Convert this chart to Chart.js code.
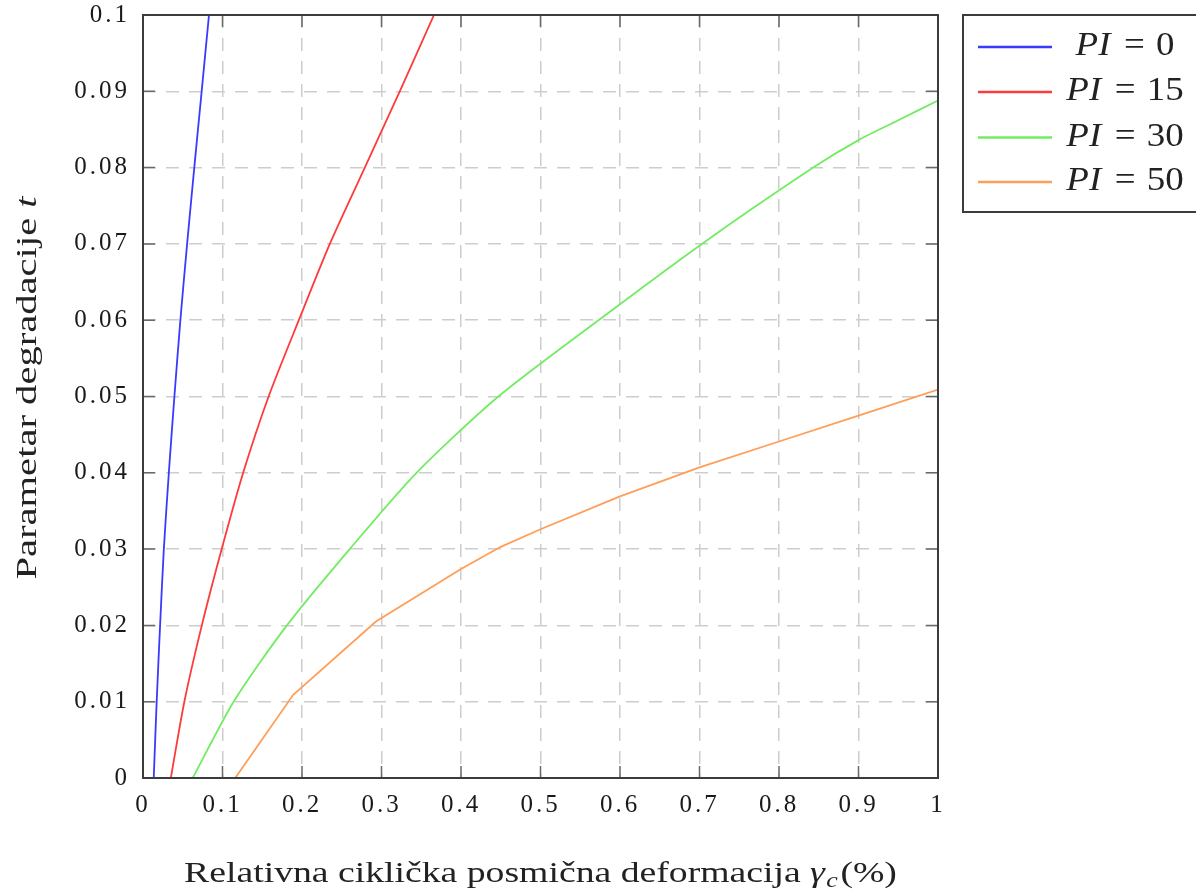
<!DOCTYPE html>
<html>
<head>
<meta charset="utf-8">
<title>Parametar degradacije</title>
<script src="https://cdn.jsdelivr.net/npm/chart.js@4.4.1/dist/chart.umd.min.js"></script>
<style>
  html, body { margin: 0; padding: 0; background: #fff; }
  #graficaContainer { width: 1196px; height: 891px; position: relative; }
</style>
</head>
<body>
<div id="graficaContainer"><canvas id="grafica"></canvas></div>
<script>
// Vrijednosti očitane sa slike
const piVrijednosti = [0, 15, 30, 50];

// t na osi y (zajedničke razine za PI = 0 i PI = 15)
const tRazine = [0, 0.01, 0.02, 0.03, 0.04, 0.05, 0.06, 0.07, 0.08, 0.09, 0.1];

const gamaPI0 = [0.0135, 0.0172, 0.0215, 0.0262, 0.0325, 0.0395, 0.047, 0.0555, 0.0645, 0.0738, 0.083];
const gamaPI15 = [0.035, 0.052, 0.074, 0.099, 0.126, 0.158, 0.196, 0.235, 0.279, 0.323, 0.366];

const gamaPI30 = [0.0625, 0.114, 0.181, 0.260, 0.344, 0.447, 0.573, 0.703, 0.843, 0.9, 0.95, 1.0];
const tPI30 = [0, 0.01, 0.02, 0.03, 0.04, 0.05, 0.06, 0.07, 0.08, 0.0836, 0.0862, 0.0888];

const gamaPI50 = [0.116, 0.189, 0.293, 0.4, 0.45, 0.5, 0.6, 0.7, 0.8, 0.9, 1.0];
const tPI50 = [0, 0.0109, 0.0205, 0.0274, 0.0303, 0.0326, 0.0369, 0.0407, 0.0441, 0.0475, 0.0509];

// Oznake na osima
const xTicks = [0, 0.1, 0.2, 0.3, 0.4, 0.5, 0.6, 0.7, 0.8, 0.9, 1];
const xTickLabels = ['0', '0.1', '0.2', '0.3', '0.4', '0.5', '0.6', '0.7', '0.8', '0.9', '1'];
const yTicks = [0, 0.01, 0.02, 0.03, 0.04, 0.05, 0.06, 0.07, 0.08, 0.09, 0.1];
const yTickLabels = ['0', '0.01', '0.02', '0.03', '0.04', '0.05', '0.06', '0.07', '0.08', '0.09', '0.1'];

const nazivX = 'Relativna ciklička posmična deformacija ';
const nazivY = 'Parametar degradacije ';

const SERIF = '"Liberation Serif", "Times New Roman", serif';

function tocke(xs, ys) {
    return xs.map((x, i) => ({ x: x, y: ys[i] }));
}

// okvir, unutarnje crtice, naslovi osi i legenda
const okvirPlugin = {
    id: 'okvir',
    beforeDraw(chart) {
        chart.ctx.letterSpacing = '3px';
    },
    afterDraw(chart) {
        const ctx = chart.ctx;
        const a = chart.chartArea;
        const xs = chart.scales.x;
        const ys = chart.scales.y;
        ctx.save();
        ctx.letterSpacing = '0px';

        // crtice prema unutra
        ctx.strokeStyle = '#6a6a6a';
        ctx.lineWidth = 1.5;
        const dl = 12;
        ctx.beginPath();
        xTicks.forEach(v => {
            const px = xs.getPixelForValue(v);
            ctx.moveTo(px, a.bottom); ctx.lineTo(px, a.bottom - dl);
            ctx.moveTo(px, a.top); ctx.lineTo(px, a.top + dl);
        });
        yTicks.forEach(v => {
            const py = ys.getPixelForValue(v);
            ctx.moveTo(a.left, py); ctx.lineTo(a.left + dl, py);
            ctx.moveTo(a.right, py); ctx.lineTo(a.right - dl, py);
        });
        ctx.stroke();

        // okvir
        ctx.strokeStyle = '#3c3c3c';
        ctx.lineWidth = 2;
        ctx.strokeRect(a.left, a.top, a.right - a.left, a.bottom - a.top);

        ctx.fillStyle = '#222';
        ctx.textBaseline = 'alphabetic';
        ctx.textAlign = 'left';

        // naslov osi x (razvučen vodoravno kao na izvorniku)
        const fN = '29px ' + SERIF;
        const fI = 'italic 29px ' + SERIF;
        const fS = 'italic 20px ' + SERIF;
        ctx.font = fN; const w1 = ctx.measureText(nazivX).width;
        ctx.font = fI; const w2 = ctx.measureText('γ').width + 1;
        ctx.font = fS; const w3 = ctx.measureText('c').width + 2;
        ctx.font = fN; const w4 = ctx.measureText('(%)').width;
        ctx.save();
        ctx.translate((a.left + a.right) / 2, 882);
        ctx.scale(1.3, 1);
        let x0 = -(w1 + w2 + w3 + w4) / 2;
        ctx.font = fN; ctx.fillText(nazivX, x0, 0); x0 += w1;
        ctx.font = fI; ctx.fillText('γ', x0, 0); x0 += w2;
        ctx.font = fS; ctx.fillText('c', x0, 5); x0 += w3;
        ctx.font = fN; ctx.fillText('(%)', x0, 0);
        ctx.restore();

        // naslov osi y
        ctx.save();
        ctx.translate(36, 388);
        ctx.rotate(-Math.PI / 2);
        ctx.scale(1.4, 1);
        ctx.font = fN; const v1 = ctx.measureText(nazivY).width;
        ctx.font = fI; const v2 = ctx.measureText('t').width;
        let y0 = -(v1 + v2) / 2;
        ctx.font = fN; ctx.fillText(nazivY, y0, 0);
        ctx.font = fI; ctx.fillText('t', y0 + v1, 0);
        ctx.restore();

        // legenda
        const lx = 963, ly = 15, lw = 260, lh = 197;
        ctx.fillStyle = '#fff';
        ctx.fillRect(lx, ly, lw, lh);
        ctx.strokeStyle = '#3c3c3c';
        ctx.lineWidth = 2;
        ctx.strokeRect(lx, ly, lw, lh);
        const redovi = [47, 92, 137.5, 182];
        chart.data.datasets.forEach((ds, i) => {
            const yy = redovi[i];
            ctx.strokeStyle = ds.borderColor;
            ctx.lineWidth = 2.5;
            ctx.beginPath();
            ctx.moveTo(978, yy); ctx.lineTo(1052, yy);
            ctx.stroke();
            const dijelovi = ds.label.split(' = ');
            const fLI = 'italic 33px ' + SERIF;
            const fLN = '33px ' + SERIF;
            ctx.font = fLI; const a1 = ctx.measureText(dijelovi[0]).width + 2;
            ctx.font = fLN; const a2 = ctx.measureText('=').width;
            const a3 = ctx.measureText(dijelovi[1]).width;
            const razmak = 10;
            ctx.save();
            ctx.translate(1125, yy + 8);
            ctx.scale(1.12, 1);
            let tx = -(a1 + a2 + a3 + 2 * razmak) / 2;
            ctx.fillStyle = '#222';
            ctx.font = fLI; ctx.fillText(dijelovi[0], tx, 0); tx += a1 + razmak;
            ctx.font = fLN; ctx.fillText('=', tx, 0); tx += a2 + razmak;
            ctx.fillText(dijelovi[1], tx, 0);
            ctx.restore();
        });
        ctx.restore();
    }
};

function generarGrafica() {
    const ctx = document.getElementById('grafica').getContext('2d');

    new Chart(ctx, {
        type: 'line',
        data: {
            datasets: [
                {
                    label: 'PI = ' + piVrijednosti[0],
                    data: tocke(gamaPI0, tRazine),
                    borderColor: '#3a3aff',
                    tension: 0.25,
                },
                {
                    label: 'PI = ' + piVrijednosti[1],
                    data: tocke(gamaPI15, tRazine),
                    borderColor: '#ff3a3a',
                    tension: 0.25,
                },
                {
                    label: 'PI = ' + piVrijednosti[2],
                    data: tocke(gamaPI30, tPI30),
                    borderColor: '#72ec62',
                    tension: 0.25,
                },
                {
                    label: 'PI = ' + piVrijednosti[3],
                    data: tocke(gamaPI50, tPI50),
                    borderColor: '#ff9e58',
                    tension: 0,
                },
            ].map(ds => Object.assign(ds, {
                borderWidth: 1.8,
                pointRadius: 0,
                fill: false,
            })),
        },
        options: {
            responsive: true,
            maintainAspectRatio: false,
            animation: false,
            layout: {
                padding: { left: 0, right: 258, top: 15, bottom: 0 },
            },
            plugins: {
                legend: { display: false },
                tooltip: { enabled: false },
            },
            scales: {
                x: {
                    type: 'linear',
                    min: 0,
                    max: 1,
                    afterBuildTicks: s => { s.ticks = xTicks.map(v => ({ value: v })); },
                    afterFit: s => { s.height = 113; s.paddingLeft = 0; s.paddingRight = 0; },
                    grid: {
                        color: '#cdcdcd',
                        lineWidth: 1.5,
                        drawTicks: false,
                    },
                    border: { display: false, dash: [13, 10] },
                    ticks: {
                        padding: 12,
                        maxRotation: 0,
                        color: '#1a1a1a',
                        font: { family: SERIF, size: 25 },
                        callback: (v, i) => xTickLabels[i],
                    },
                },
                y: {
                    type: 'linear',
                    min: 0,
                    max: 0.1,
                    afterBuildTicks: s => { s.ticks = yTicks.map(v => ({ value: v })); },
                    afterFit: s => { s.width = 143; s.paddingTop = 0; s.paddingBottom = 0; },
                    grid: {
                        color: '#cdcdcd',
                        lineWidth: 1.5,
                        drawTicks: false,
                    },
                    border: { display: false, dash: [13, 10] },
                    ticks: {
                        padding: 13,
                        color: '#1a1a1a',
                        font: { family: SERIF, size: 25 },
                        callback: (v, i) => yTickLabels[i],
                    },
                },
            },
        },
        plugins: [okvirPlugin],
    });
}

document.addEventListener('DOMContentLoaded', () => {
    generarGrafica();
});
</script>
</body>
</html>
